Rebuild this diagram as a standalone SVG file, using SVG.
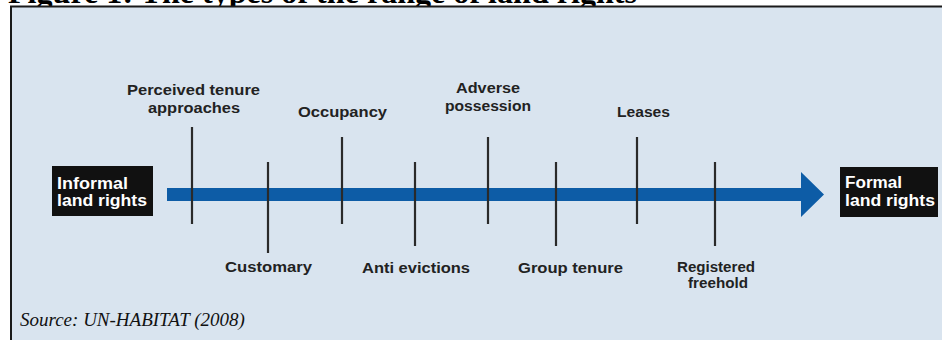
<svg xmlns="http://www.w3.org/2000/svg" width="942" height="340" viewBox="0 0 942 340">
<style>
.lbl{font-family:"Liberation Sans","DejaVu Sans",sans-serif;font-weight:bold;font-size:14px;fill:#222;text-anchor:middle}
.end{font-family:"Liberation Sans","DejaVu Sans",sans-serif;font-weight:bold;font-size:16px;fill:#fff}
.tick{stroke:#2a2a2a;stroke-width:2.2;fill:none}
.ebox{fill:#111}
</style>
<rect x="0" y="0" width="942" height="340" fill="#fff"/>
<text x="8" y="3" font-family="Liberation Serif, serif" font-weight="bold" font-size="32" fill="#000" textLength="629" lengthAdjust="spacingAndGlyphs">Figure 1: The types of the range of land rights</text>
<rect x="11" y="6.5" width="931" height="334" fill="#d9e4ef"/>
<path d="M11,340 V6.5 H942" fill="none" stroke="#1a1a1a" stroke-width="2"/>

<g id="connectors">
  <path d="M167,188 H801 V172 L824,194.5 L801,217 V201 H167 Z" fill="#0d5ca6"/>
</g>

<g id="informal">
  <rect class="ebox" x="52" y="166" width="101" height="50"/>
  <text class="end" x="57" y="189" textLength="71" lengthAdjust="spacingAndGlyphs">Informal</text>
  <text class="end" x="57" y="206" textLength="90" lengthAdjust="spacingAndGlyphs">land rights</text>
</g>
<g id="formal">
  <rect class="ebox" x="840" y="167" width="98" height="50"/>
  <text class="end" x="845" y="188" textLength="57" lengthAdjust="spacingAndGlyphs">Formal</text>
  <text class="end" x="845" y="206" textLength="90" lengthAdjust="spacingAndGlyphs">land rights</text>
</g>

<g id="perceived">
  <line class="tick" x1="192" y1="127" x2="192" y2="224"/>
  <text class="lbl" x="193.5" y="95" textLength="133" lengthAdjust="spacingAndGlyphs">Perceived tenure</text>
  <text class="lbl" x="194" y="113" textLength="92" lengthAdjust="spacingAndGlyphs">approaches</text>
</g>
<g id="customary">
  <line class="tick" x1="268" y1="162" x2="268" y2="253"/>
  <text class="lbl" x="268.5" y="272" textLength="87" lengthAdjust="spacingAndGlyphs">Customary</text>
</g>
<g id="occupancy">
  <line class="tick" x1="342" y1="137" x2="342" y2="224"/>
  <text class="lbl" x="342.5" y="117" textLength="89" lengthAdjust="spacingAndGlyphs">Occupancy</text>
</g>
<g id="anti-evictions">
  <line class="tick" x1="415" y1="162" x2="415" y2="246"/>
  <text class="lbl" x="416" y="273" textLength="108" lengthAdjust="spacingAndGlyphs">Anti evictions</text>
</g>
<g id="adverse">
  <line class="tick" x1="488" y1="137" x2="488" y2="224"/>
  <text class="lbl" x="488" y="93" textLength="64" lengthAdjust="spacingAndGlyphs">Adverse</text>
  <text class="lbl" x="488" y="111" textLength="86" lengthAdjust="spacingAndGlyphs">possession</text>
</g>
<g id="group-tenure">
  <line class="tick" x1="556" y1="162" x2="556" y2="246"/>
  <text class="lbl" x="570.5" y="273" textLength="105" lengthAdjust="spacingAndGlyphs">Group tenure</text>
</g>
<g id="leases">
  <line class="tick" x1="637" y1="137" x2="637" y2="224"/>
  <text class="lbl" x="643.5" y="117" textLength="53" lengthAdjust="spacingAndGlyphs">Leases</text>
</g>
<g id="registered">
  <line class="tick" x1="715" y1="162" x2="715" y2="246"/>
  <text class="lbl" x="716" y="272" textLength="78" lengthAdjust="spacingAndGlyphs">Registered</text>
  <text class="lbl" x="718" y="288" textLength="60" lengthAdjust="spacingAndGlyphs">freehold</text>
</g>

<text x="20" y="326" font-family="Liberation Serif, serif" font-style="italic" font-size="19" fill="#111">Source: UN-HABITAT (2008)</text>
</svg>
